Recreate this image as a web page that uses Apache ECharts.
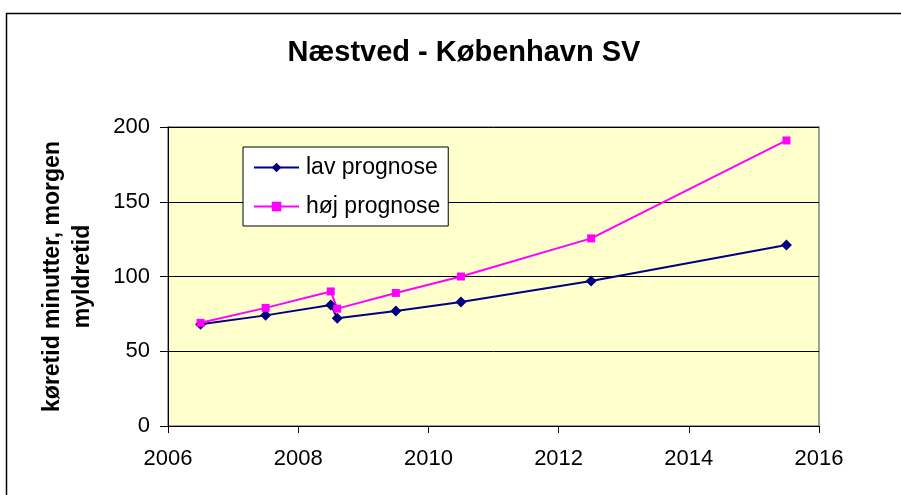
<!DOCTYPE html>
<html><head><meta charset="utf-8">
<script src="https://cdn.jsdelivr.net/npm/echarts@6/dist/echarts.min.js"></script>
<style>html,body{margin:0;padding:0;background:#fff}#c{width:901px;height:495px}</style>
</head><body><div id="c"></div>
<script>
const years = [2006.5, 2007.5, 2008.5, 2008.6, 2009.5, 2010.5, 2012.5, 2015.5];
const lav = [68, 74, 81, 72, 77, 83, 97, 121];
const hoj = [69, 79, 90, 78.5, 89, 100, 125.5, 191];
const seriesNames = ['lav prognose', 'høj prognose'];
const titleText = 'Næstved - København SV';
const yName = 'køretid minutter, morgen\nmyldretid';

const chart = echarts.init(document.getElementById('c'));
const F = 'Arial, "Liberation Sans", sans-serif';
chart.setOption({
  animation: false,
  backgroundColor: '#fff',
  title: { text: titleText, left: 459, top: 33, textAlign: 'center',
    textStyle: { fontFamily: F, fontWeight: 'bold', fontSize: 29, color: '#000' } },
  graphic: [{ type: 'rect', shape: { x: 6.5, y: 13.5, width: 900, height: 490 },
    style: { fill: null, stroke: '#000', lineWidth: 1.5 }, silent: true, z: -1 }],
  grid: { left: 168, top: 127, width: 651, height: 299, show: true,
    backgroundColor: '#FFFFCC', borderColor: '#808080', borderWidth: 1.5 },
  legend: { left: 243, top: 147, orient: 'vertical', width: 206,
    padding: [9, 8, 8, 10], itemGap: 16, itemWidth: 45, itemHeight: 12,
    borderColor: '#000', borderWidth: 1, backgroundColor: '#fff',
    textStyle: { fontFamily: F, fontSize: 23, color: '#000', padding: [0, 0, 0, 2] },
    data: seriesNames },
  xAxis: { type: 'value', min: 2006, max: 2016, interval: 2,
    axisLine: { show: true, lineStyle: { color: '#000', width: 1 } },
    axisTick: { show: true, length: 7, lineStyle: { color: '#000' } },
    axisLabel: { fontFamily: F, fontSize: 22, color: '#000', margin: 22, formatter: v => String(v) },
    splitLine: { show: false } },
  yAxis: { type: 'value', min: 0, max: 200, interval: 50,
    name: yName, nameLocation: 'middle', nameGap: 70, nameRotate: 90,
    nameTextStyle: { fontFamily: F, fontWeight: 'bold', fontSize: 23, color: '#000', align: 'center', lineHeight: 30 },
    axisLine: { show: true, lineStyle: { color: '#000', width: 1 } },
    axisTick: { show: true, length: 8, lineStyle: { color: '#000' } },
    axisLabel: { fontFamily: F, fontSize: 22, color: '#000', margin: 18 },
    splitLine: { show: true, lineStyle: { color: '#000', width: 1 } } },
  series: [
    { name: seriesNames[0], type: 'line', data: years.map((x, i) => [x, lav[i]]),
      symbol: 'diamond', symbolSize: 11, color: '#000080',
      lineStyle: { width: 2, color: '#000080' }, itemStyle: { color: '#000080' } },
    { name: seriesNames[1], type: 'line', data: years.map((x, i) => [x, hoj[i]]),
      symbol: 'rect', symbolSize: 8, color: '#FF00FF',
      lineStyle: { width: 2, color: '#FF00FF' }, itemStyle: { color: '#FF00FF' } }
  ]
});
</script></body></html>
